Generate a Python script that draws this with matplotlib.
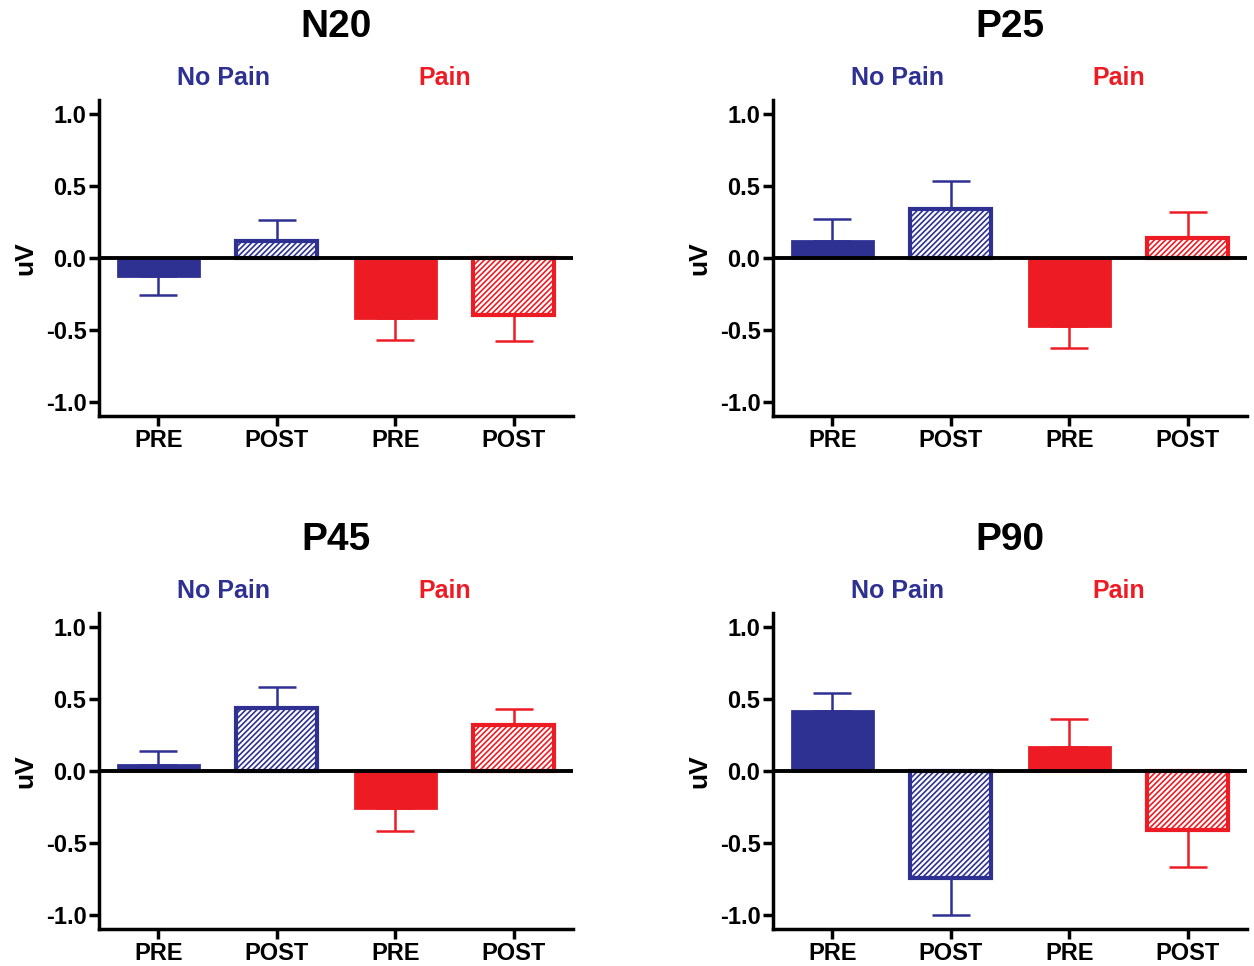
import matplotlib
matplotlib.use("Agg")
import matplotlib.pyplot as plt
from matplotlib.transforms import blended_transform_factory
import numpy as np

plt.rcParams['font.family'] = ['Liberation Sans', 'DejaVu Sans']
plt.rcParams['font.weight'] = 'bold'
plt.rcParams['hatch.linewidth'] = 1.2

blue = '#2E3192'
red = '#ED1C24'

categories = ["PRE", "POST", "PRE", "POST"]
groups = ["No Pain", "Pain"]
panels = ["N20", "P25", "P45", "P90"]

# mean amplitude (uV) for NoPain PRE, NoPain POST, Pain PRE, Pain POST
n20_mean = [-0.125, 0.12, -0.42, -0.40]
n20_sem = [0.135, 0.145, 0.15, 0.18]
p25_mean = [0.12, 0.34, -0.47, 0.14]
p25_sem = [0.15, 0.195, 0.155, 0.18]
p45_mean = [0.04, 0.44, -0.26, 0.32]
p45_sem = [0.10, 0.145, 0.155, 0.11]
p90_mean = [0.42, -0.745, 0.17, -0.41]
p90_sem = [0.12, 0.255, 0.19, 0.255]

means = [n20_mean, p25_mean, p45_mean, p90_mean]
sems = [n20_sem, p25_sem, p45_sem, p90_sem]

colors = [blue, blue, red, red]
hatched = [False, True, False, True]

fig = plt.figure(figsize=(12.54, 9.66), dpi=100)
W, H = 1254, 966
boxes = [(99, 100), (773, 100), (99, 613), (773, 613)]

for k in range(4):
    x0, y0 = boxes[k]
    ax = fig.add_axes([x0 / W, 1 - (y0 + 316) / H, 474 / W, 316 / H])
    x = np.arange(4)
    for i in range(4):
        m = means[k][i]
        s = sems[k][i]
        if hatched[i]:
            ax.bar(x[i], m, width=0.68, facecolor='white', edgecolor=colors[i],
                   hatch='//////', linewidth=3.0, zorder=2)
        else:
            ax.bar(x[i], m, width=0.68, facecolor=colors[i], edgecolor=colors[i],
                   linewidth=2.0, zorder=2)
        if m >= 0:
            yerr = [[0], [s]]
        else:
            yerr = [[s], [0]]
        ax.errorbar(x[i], m, yerr=yerr, fmt='none', ecolor=colors[i],
                    elinewidth=1.8, capsize=14, capthick=1.8, zorder=1)
    ax.axhline(0, color='black', lw=2.8, zorder=5)
    ax.set_xlim(-0.5, 3.5)
    ax.set_ylim(-1.1, 1.1)
    ax.set_yticks([-1.0, -0.5, 0.0, 0.5, 1.0])
    ax.set_yticklabels(["-1.0", "-0.5", "0.0", "0.5", "1.0"])
    ax.set_xticks(x)
    ax.set_xticklabels(categories)
    ax.spines['top'].set_visible(False)
    ax.spines['right'].set_visible(False)
    ax.spines['left'].set_linewidth(2.5)
    ax.spines['bottom'].set_linewidth(2.5)
    ax.tick_params(axis='both', width=2.5, length=7, labelsize=17, pad=2)
    ax.set_ylabel("uV", fontsize=19, fontweight='bold', labelpad=6)
    trans = blended_transform_factory(ax.transData, ax.transAxes)
    ax.text(0.55, 1.07, groups[0], color=blue, fontsize=18, fontweight='bold',
            ha='center', va='center', transform=trans)
    ax.text(2.42, 1.07, groups[1], color=red, fontsize=18, fontweight='bold',
            ha='center', va='center', transform=trans)
    ax.text(0.5, 1.23, panels[k], fontsize=28, fontweight='bold',
            ha='center', va='center', transform=ax.transAxes)

fig.savefig("out.png", dpi=100)
